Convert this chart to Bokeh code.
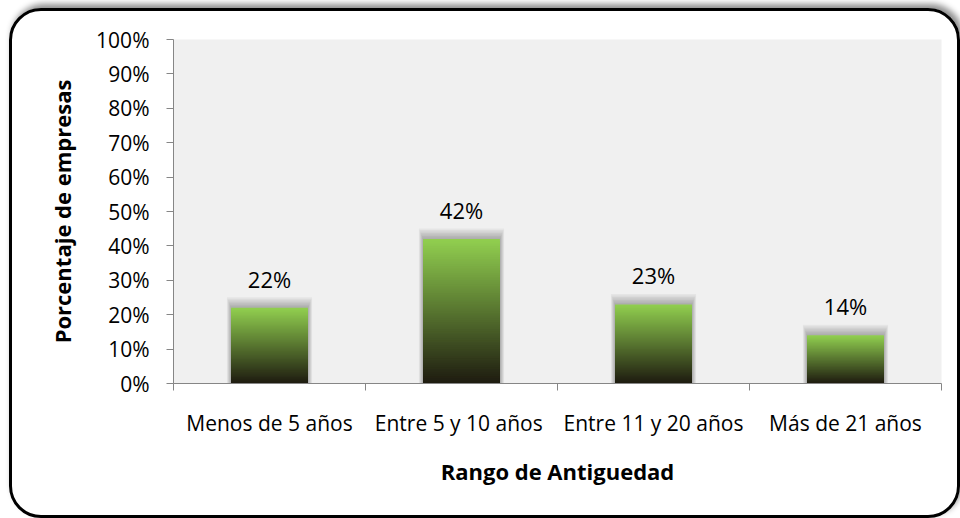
from bokeh.plotting import figure
from bokeh.models import FixedTicker, Range1d, ColumnDataSource
from bokeh.core.properties import value
from bokeh.embed import file_html
from bokeh.resources import INLINE

categories = ["Menos de 5 años", "Entre  5 y 10 años", "Entre 11 y 20 años", "Más de 21 años"]
values = [22, 42, 23, 14]
value_labels = ["22%", "42%", "23%", "14%"]
y_ticks = [0, 10, 20, 30, 40, 50, 60, 70, 80, 90, 100]
y_tick_labels = ["0%", "10%", "20%", "30%", "40%", "50%", "60%", "70%", "80%", "90%", "100%"]
x_title = "Rango de Antiguedad"
y_title = "Porcentaje de empresas"

FONT = "Open Sans"
W, H = 951, 510

p = figure(width=W, height=H, output_backend="svg", toolbar_location=None,
           x_range=Range1d(0, 4), y_range=Range1d(0, 100),
           min_border_left=161, min_border_top=28, min_border_right=22, min_border_bottom=138)
p.styles = {"border": "3px solid #000000", "border-radius": "32px",
            "box-shadow": "3px -4px 6px rgba(0,0,0,0.45)", "box-sizing": "border-box",
            "margin-left": "9px", "margin-top": "8px"}
p.border_fill_alpha = 0
p.background_fill_color = "#f0f0f0"
p.outline_line_color = None
p.xgrid.visible = False
p.ygrid.visible = False

xs = [i + 0.5 for i in range(len(categories))]

# bar glow / shadow (mostly above the top edge)
px_y = 100 / 344.0
px_x = 1 / 192.0
for k in range(1, 8):
    p.vbar(x=xs, width=0.4 + 2 * 0.6 * k * px_x, bottom=0,
           top=[v + 1.5 * k * px_y for v in values],
           fill_color="black", fill_alpha=0.045, line_color=None)

# gradient bars: nested slices from tallest (lightest) to shortest (darkest)
N = 80
top_rgb = (146, 208, 80)
bot_rgb = (30, 27, 16)
gx, gt, gc = [], [], []
for i in reversed(range(N)):
    f = (i + 0.5) / N
    r = int(bot_rgb[0] + (top_rgb[0] - bot_rgb[0]) * f)
    g = int(bot_rgb[1] + (top_rgb[1] - bot_rgb[1]) * f)
    b = int(bot_rgb[2] + (top_rgb[2] - bot_rgb[2]) * f)
    for x, v in zip(xs, values):
        gx.append(x)
        gt.append(v * (i + 1) / N)
        gc.append("#%02x%02x%02x" % (r, g, b))
src = ColumnDataSource(dict(x=gx, top=gt, color=gc))
p.vbar(x="x", bottom=0, top="top", width=0.4, fill_color="color",
       line_color=None, source=src)

# data labels
p.text(x=xs, y=values, text=value_labels, text_align="center", text_baseline="alphabetic",
       y_offset=-29, text_font=value(FONT), text_font_size="22px", text_color="#000000")

# x axis
xa = p.xaxis[0]
xa.ticker = FixedTicker(ticks=xs, minor_ticks=[0, 1, 2, 3, 4])
xa.major_label_overrides = {x: c for x, c in zip(xs, categories)}
xa.major_tick_out = 0
xa.major_tick_in = 0
xa.minor_tick_out = 7
xa.minor_tick_in = 0
xa.minor_tick_line_color = "#868686"
xa.axis_line_color = "#868686"
xa.major_label_standoff = 18
xa.major_label_text_font = FONT
xa.major_label_text_font_size = "21px"
xa.major_label_text_color = "#000000"
xa.axis_label = x_title
xa.axis_label_text_font = FONT
xa.axis_label_text_font_style = "bold"
xa.axis_label_text_font_size = "22px"
xa.axis_label_text_color = "#000000"
xa.axis_label_standoff = 16

# y axis
ya = p.yaxis[0]
ya.ticker = FixedTicker(ticks=y_ticks, minor_ticks=[])
ya.major_label_overrides = {t: l for t, l in zip(y_ticks, y_tick_labels)}
ya.major_tick_out = 7
ya.major_tick_in = 0
ya.minor_tick_out = 0
ya.minor_tick_in = 0
ya.major_tick_line_color = "#868686"
ya.axis_line_color = "#868686"
ya.major_label_standoff = 17
ya.major_label_text_font = FONT
ya.major_label_text_font_size = "21px"
ya.major_label_text_color = "#000000"
ya.axis_label = y_title
ya.axis_label_text_font = FONT
ya.axis_label_text_font_style = "bold"
ya.axis_label_text_font_size = "22px"
ya.axis_label_text_color = "#000000"
ya.axis_label_standoff = 16

open("out.html", "w").write(file_html(p, INLINE))
